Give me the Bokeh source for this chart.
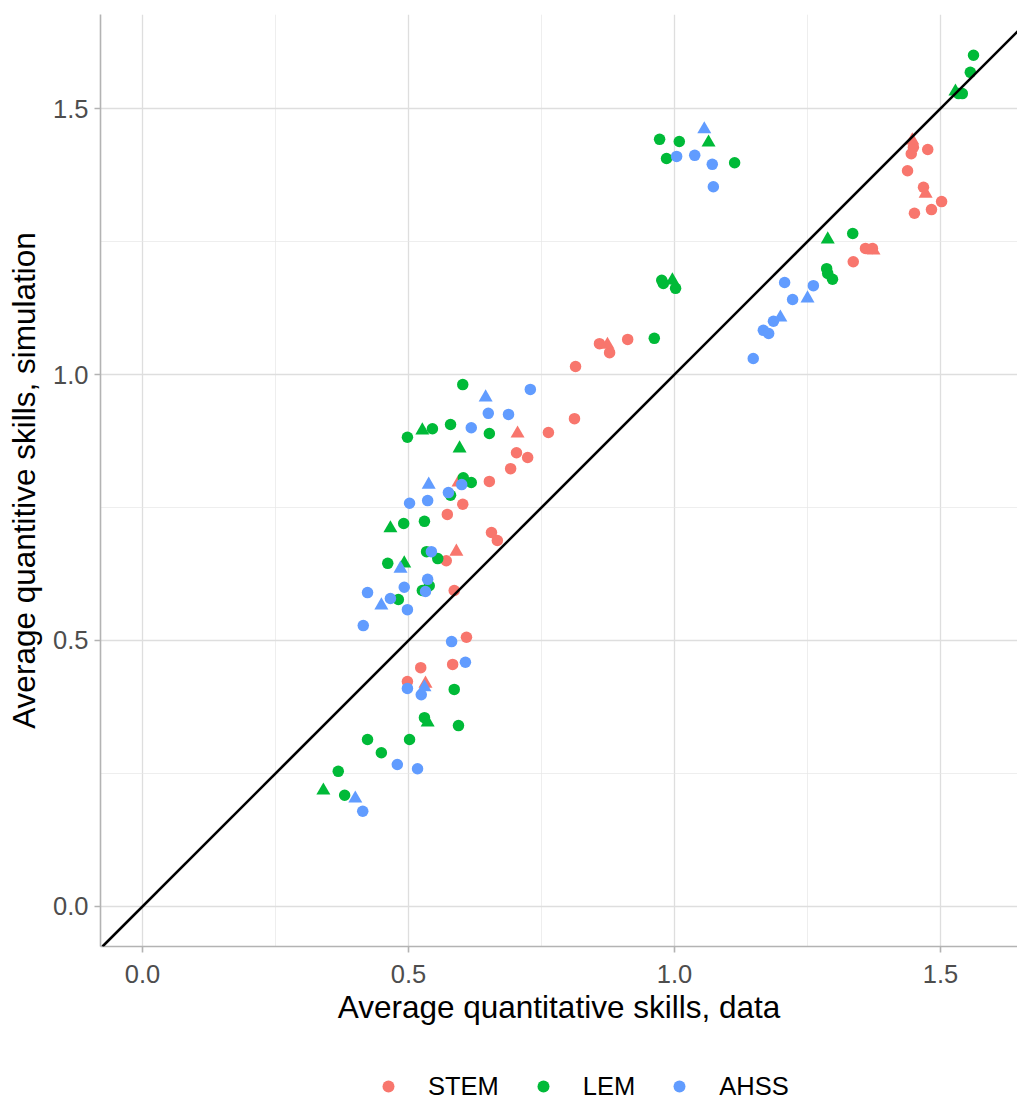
from bokeh.plotting import figure
from bokeh.layouts import column
from bokeh.models import (ColumnDataSource, Slope, FixedTicker, Legend, LegendItem,
                          PrintfTickFormatter, Range1d)
from bokeh.embed import file_html
from bokeh.resources import INLINE

# ---------------- data ----------------
groups = ["STEM", "LEM", "AHSS"]
group_colors = ["#F8766D", "#00BA38", "#619CFF"]

stem_circle_x = [0.571, 0.586, 0.523, 0.583, 0.609, 0.498, 0.602, 0.573, 0.652, 0.656, 0.667,
                 0.703, 0.724, 0.692, 0.763, 0.812, 0.814, 0.859, 0.878, 0.912, 1.336, 1.359,
                 1.372, 1.438, 1.449, 1.445, 1.476, 1.468, 1.502, 1.483, 1.451]
stem_circle_y = [0.650, 0.594, 0.449, 0.455, 0.506, 0.423, 0.756, 0.737, 0.799, 0.703, 0.688,
                 0.853, 0.844, 0.823, 0.891, 0.917, 1.015, 1.058, 1.041, 1.066, 1.212, 1.237,
                 1.237, 1.383, 1.427, 1.415, 1.423, 1.352, 1.325, 1.310, 1.303]
stem_tri_x = [0.590, 0.532, 0.594, 0.705, 0.874, 1.374, 1.447, 1.472]
stem_tri_y = [0.667, 0.419, 0.797, 0.889, 1.056, 1.233, 1.440, 1.340]

lem_circle_x = [0.602, 0.498, 0.545, 0.579, 0.652, 0.603, 0.618, 0.579, 0.491, 0.530, 0.534,
                0.555, 0.461, 0.526, 0.539, 0.481, 0.586, 0.530, 0.594, 0.423, 0.502, 0.449,
                0.368, 0.380, 0.962, 0.976, 0.979, 1.002, 0.972, 1.009, 0.985, 1.113, 1.335,
                1.286, 1.288, 1.297, 1.562, 1.556, 1.541, 1.534]
lem_circle_y = [0.981, 0.882, 0.898, 0.906, 0.889, 0.806, 0.797, 0.773, 0.720, 0.724, 0.667,
                0.654, 0.645, 0.594, 0.603, 0.577, 0.408, 0.355, 0.340, 0.314, 0.314, 0.289,
                0.254, 0.209, 1.068, 1.177, 1.171, 1.162, 1.442, 1.438, 1.406, 1.398, 1.265,
                1.199, 1.190, 1.179, 1.600, 1.568, 1.528, 1.528]
lem_tri_x = [0.526, 0.596, 0.466, 0.492, 0.536, 0.340, 0.996, 1.064, 1.288, 1.528]
lem_tri_y = [0.895, 0.861, 0.711, 0.645, 0.346, 0.218, 1.177, 1.436, 1.254, 1.532]

ahss_circle_x = [0.729, 0.650, 0.688, 0.618, 0.600, 0.575, 0.502, 0.536, 0.543, 0.536, 0.492,
                 0.532, 0.423, 0.466, 0.498, 0.415, 0.581, 0.607, 0.498, 0.524, 0.479, 0.517,
                 0.414, 1.004, 1.038, 1.071, 1.073, 1.207, 1.261, 1.222, 1.186, 1.167, 1.177,
                 1.148]
ahss_circle_y = [0.972, 0.927, 0.925, 0.900, 0.793, 0.778, 0.758, 0.763, 0.667, 0.615, 0.600,
                 0.592, 0.590, 0.579, 0.558, 0.528, 0.498, 0.459, 0.410, 0.398, 0.267, 0.259,
                 0.179, 1.410, 1.412, 1.395, 1.353, 1.173, 1.167, 1.141, 1.100, 1.083, 1.077,
                 1.030]
ahss_tri_x = [0.645, 0.538, 0.485, 0.449, 0.530, 0.400, 1.056, 1.250, 1.199]
ahss_tri_y = [0.957, 0.793, 0.635, 0.566, 0.412, 0.203, 1.461, 1.143, 1.107]

major_ticks = [0.0, 0.5, 1.0, 1.5]
minor_ticks = [0.25, 0.75, 1.25]

x_title = "Average quantitative skills, data"
y_title = "Average quantitive skills, simulation"

# ---------------- main figure ----------------
FONT = "Liberation Sans"
W = 1017
p = figure(width=W, height=1063, output_backend="svg", toolbar_location=None,
           x_range=Range1d(-0.0789, 1.6447), y_range=Range1d(-0.0752, 1.6767),
           min_border_left=100, min_border_right=0, min_border_top=14, min_border_bottom=117)
p.outline_line_color = None
p.background_fill_color = "white"

ticker = FixedTicker(ticks=major_ticks, minor_ticks=minor_ticks)
for ax in (p.xaxis[0], p.yaxis[0]):
    ax.ticker = ticker
    ax.formatter = PrintfTickFormatter(format="%.1f")
    ax.axis_line_color = "#B3B3B3"
    ax.axis_line_width = 1.6
    ax.major_tick_line_color = "#B3B3B3"
    ax.major_tick_line_width = 1.6
    ax.major_tick_out = 6
    ax.major_tick_in = 0
    ax.minor_tick_line_color = None
    ax.major_label_text_font = FONT
    ax.major_label_text_font_size = "25.5px"
    ax.major_label_text_color = "#4D4D4D"
    ax.axis_label_text_font = FONT
    ax.axis_label_text_font_size = "31.5px"
    ax.axis_label_text_font_style = "normal"
    ax.axis_label_text_color = "black"

p.xaxis.axis_label = x_title
p.yaxis.axis_label = y_title
p.xaxis.major_label_standoff = 12
p.yaxis.major_label_standoff = 6
p.xaxis.axis_label_standoff = 3
p.yaxis.axis_label_standoff = 8

for g in (p.xgrid[0], p.ygrid[0]):
    g.ticker = ticker
    g.grid_line_color = "#DEDEDE"
    g.grid_line_width = 1.3
    g.minor_grid_line_color = "#E6E6E6"
    g.minor_grid_line_width = 0.7

p.add_layout(Slope(gradient=1, y_intercept=0, line_color="black", line_width=2.6))

series = [
    (stem_circle_x, stem_circle_y, stem_tri_x, stem_tri_y),
    (lem_circle_x, lem_circle_y, lem_tri_x, lem_tri_y),
    (ahss_circle_x, ahss_circle_y, ahss_tri_x, ahss_tri_y),
]
for name, col, (cx, cy, tx, ty) in zip(groups, group_colors, series):
    p.scatter(x="x", y="y", source=ColumnDataSource(dict(x=cx, y=cy)),
              marker="circle", size=11.5, fill_color=col, line_color=None)
    p.scatter(x="x", y="y", source=ColumnDataSource(dict(x=tx, y=ty)),
              marker="triangle", size=14, fill_color=col, line_color=None)

# ---------------- legend strip ----------------
lg = figure(width=W, height=40, output_backend="svg", toolbar_location=None,
            x_axis_location=None, y_axis_location=None,
            x_range=Range1d(0, 1), y_range=Range1d(0, 1),
            min_border=0, min_border_left=0, min_border_right=0,
            min_border_top=0, min_border_bottom=0)
lg.outline_line_color = None
lg.xgrid.visible = False
lg.ygrid.visible = False
items = []
for name, col in zip(groups, group_colors):
    # key-only renderer: its single point lies outside the strip's range
    r = lg.scatter(x=[-10], y=[-10], marker="circle", size=11.5,
                   fill_color=col, line_color=None)
    items.append(LegendItem(label=name, renderers=[r]))
legend = Legend(items=items, orientation="horizontal", location=(273, 2),
                glyph_width=30, glyph_height=30, label_standoff=25, spacing=29,
                padding=0, margin=0, border_line_color=None, background_fill_alpha=0,
                label_text_font=FONT, label_text_font_size="25.5px",
                label_text_color="black")
lg.add_layout(legend, "center")

layout = column(p, lg, spacing=0)
open("out.html", "w").write(file_html(layout, INLINE))
